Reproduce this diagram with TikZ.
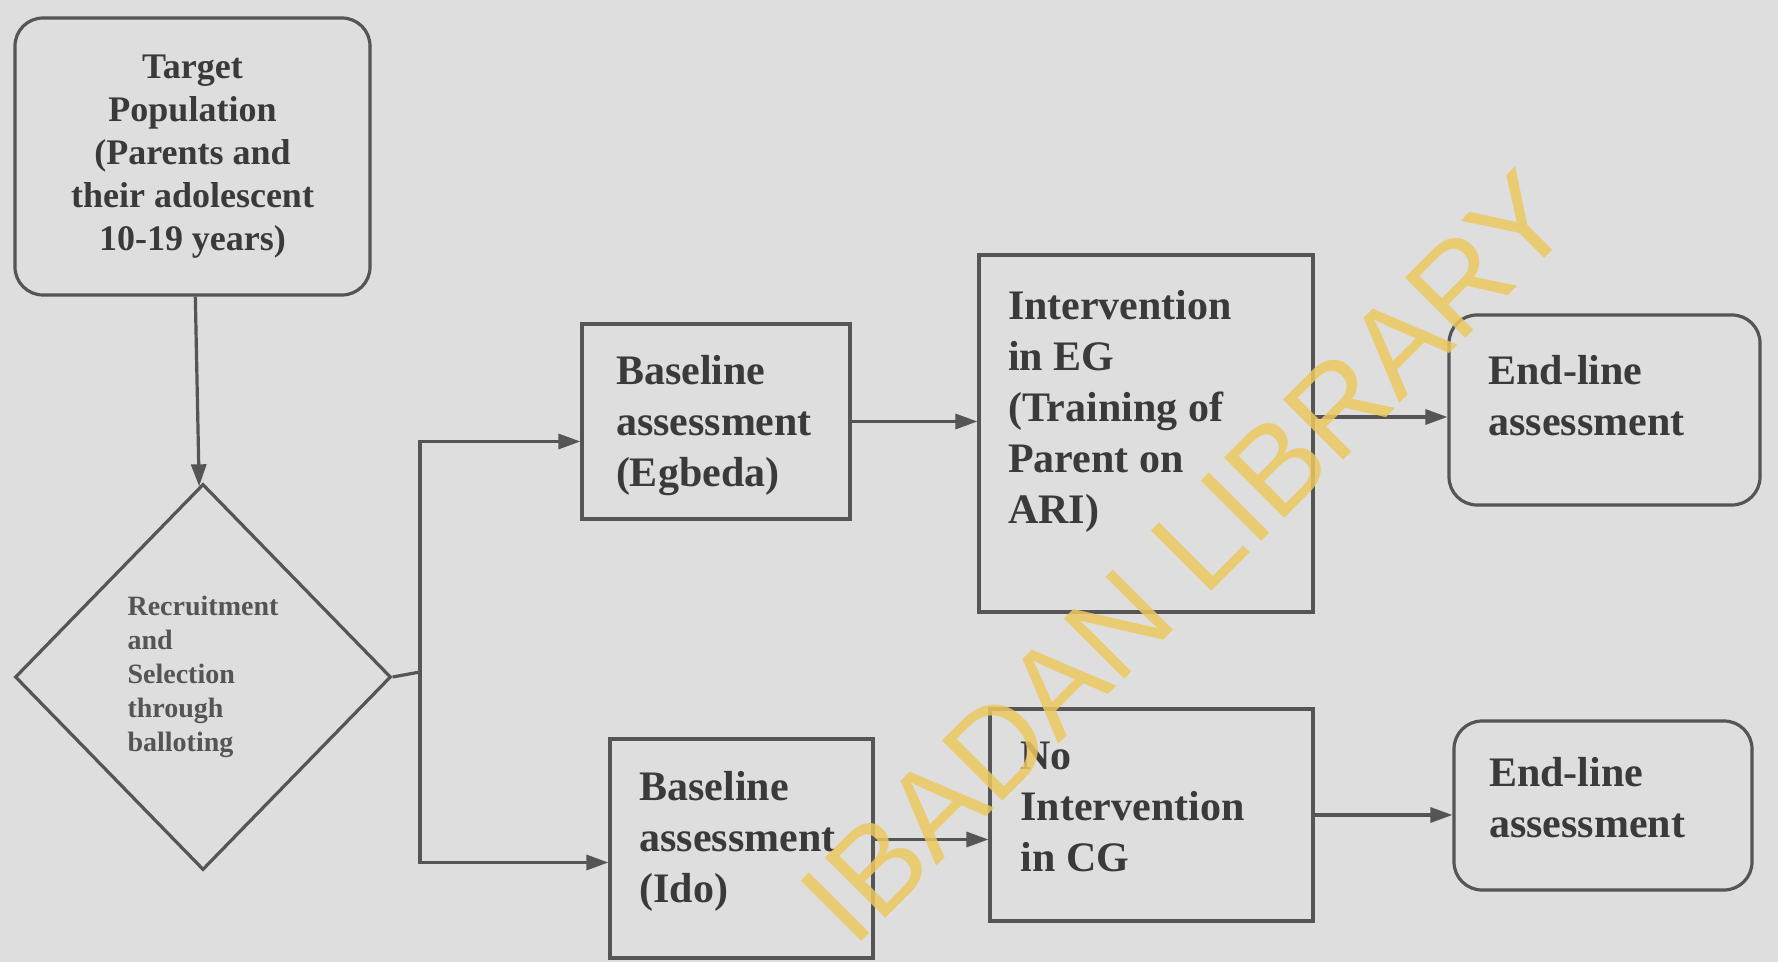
\documentclass[tikz,border=0pt]{standalone}
\usepackage{fontspec}
\setmainfont{Liberation Serif}
\newfontfamily\stampfont{Liberation Sans}
\usepackage{xcolor}
\usetikzlibrary{shapes,arrows.meta}
\definecolor{scanbg}{RGB}{222,222,222}
\definecolor{ink}{RGB}{58,58,58}
\definecolor{rule}{RGB}{85,85,85}
\definecolor{stamp}{RGB}{236,200,96}

\begin{document}
\begin{tikzpicture}[x=0.5pt,y=-0.5pt]
	\tikzset{>={Triangle[length=11pt,width=7.5pt]}}
	\tikzset{
		box/.style={draw=rule,line width=1.6pt,inner sep=0pt,text=ink,align=left,font=\fontsize{21}{25.5}\selectfont\bfseries},
		rbox/.style={box,rounded corners=14pt},
		txt/.style={text=ink,align=left,font=\fontsize{21}{25.5}\selectfont\bfseries},
		link/.style={draw=rule,line width=1.6pt}
	}
	\fill[scanbg] (0,0) rectangle (1778,962);
	\useasboundingbox (0,0) rectangle (1778,962);

	% Start of the study
	\node (target) at (192.5,156.5) [rbox,minimum width=177.5pt,minimum height=138.5pt,align=center,font=\fontsize{18}{21.5}\selectfont\bfseries] {Target\\Population\\(Parents and\\their adolescent\\10-19 years)};
	\node (select) at (203,677) [diamond,draw=rule,line width=1.6pt,inner sep=0pt,minimum width=188pt,minimum height=193pt,align=left,text=rule,font=\fontsize{14}{17}\selectfont\bfseries] {Recruitment\\and\\Selection\\through\\balloting};

	% Experimental group (upper row)
	\node (baseEG) at (716,421.5) [box,minimum width=134pt,minimum height=97.5pt] {};
	\node (baseEGtxt) at ([shift={(-2,4)}]baseEG.center) [txt] {Baseline\\assessment\\(Egbeda)};
	\node (intEG) at (1146,433.5) [box,minimum width=167pt,minimum height=178.5pt] {};
	\node (intEGtxt) at ([shift={(-26,-22)}]intEG.center) [txt] {Intervention\\in EG\\(Training of\\Parent on\\ARI)};
	\node (endEG) at (1604.5,410) [rbox,minimum width=155.5pt,minimum height=95pt] {};
	\node (endEGtxt) at ([shift={(-18,-14)}]endEG.center) [txt] {End-line\\assessment};

	% Control group (lower row)
	\node (baseIdo) at (741.5,848.5) [box,minimum width=131.5pt,minimum height=109.5pt] {};
	\node (baseIdotxt) at ([shift={(-4,-7)}]baseIdo.center) [txt] {Baseline\\assessment\\(Ido)};
	\node (noIntCG) at (1151.5,815) [box,minimum width=161.5pt,minimum height=106pt] {};
	\node (noIntCGtxt) at ([shift={(-19,-8)}]noIntCG.center) [txt] {No\\Intervention\\in CG};
	\node (endCG) at (1603,805.5) [rbox,minimum width=149pt,minimum height=84.5pt] {};
	\node (endCGtxt) at ([shift={(-16,-8)}]endCG.center) [txt] {End-line\\assessment};

	% Connectors
	\draw[link,->] (target) -- (select);
	\coordinate (split) at (420,672);
	\draw[link] (select.east) -- (split);
	\draw[link,->] (split) |- ([yshift=-10pt]baseEG.west);
	\draw[link,->] (split) |- ([yshift=-7pt]baseIdo.west);
	\draw[link,->] (baseEG.east) -- (baseEG.east -| intEG.west);
	\draw[link,->] ([yshift=-3.5pt]endEG.west -| intEG.east) -- ([yshift=-3.5pt]endEG.west);
	\draw[link,->] ([yshift=4.5pt]baseIdo.east) -- ([yshift=4.5pt]baseIdo.east -| noIntCG.west);
	\draw[link,->] (noIntCG.east) -- (noIntCG.east -| endCG.west);

	% Library stamp
	\node (libstamp) at (1186,557) [rotate=45,text=stamp,opacity=0.85,font=\stampfont\fontsize{62}{62}\selectfont] {IBADAN LIBRARY};
\end{tikzpicture}
\end{document}
